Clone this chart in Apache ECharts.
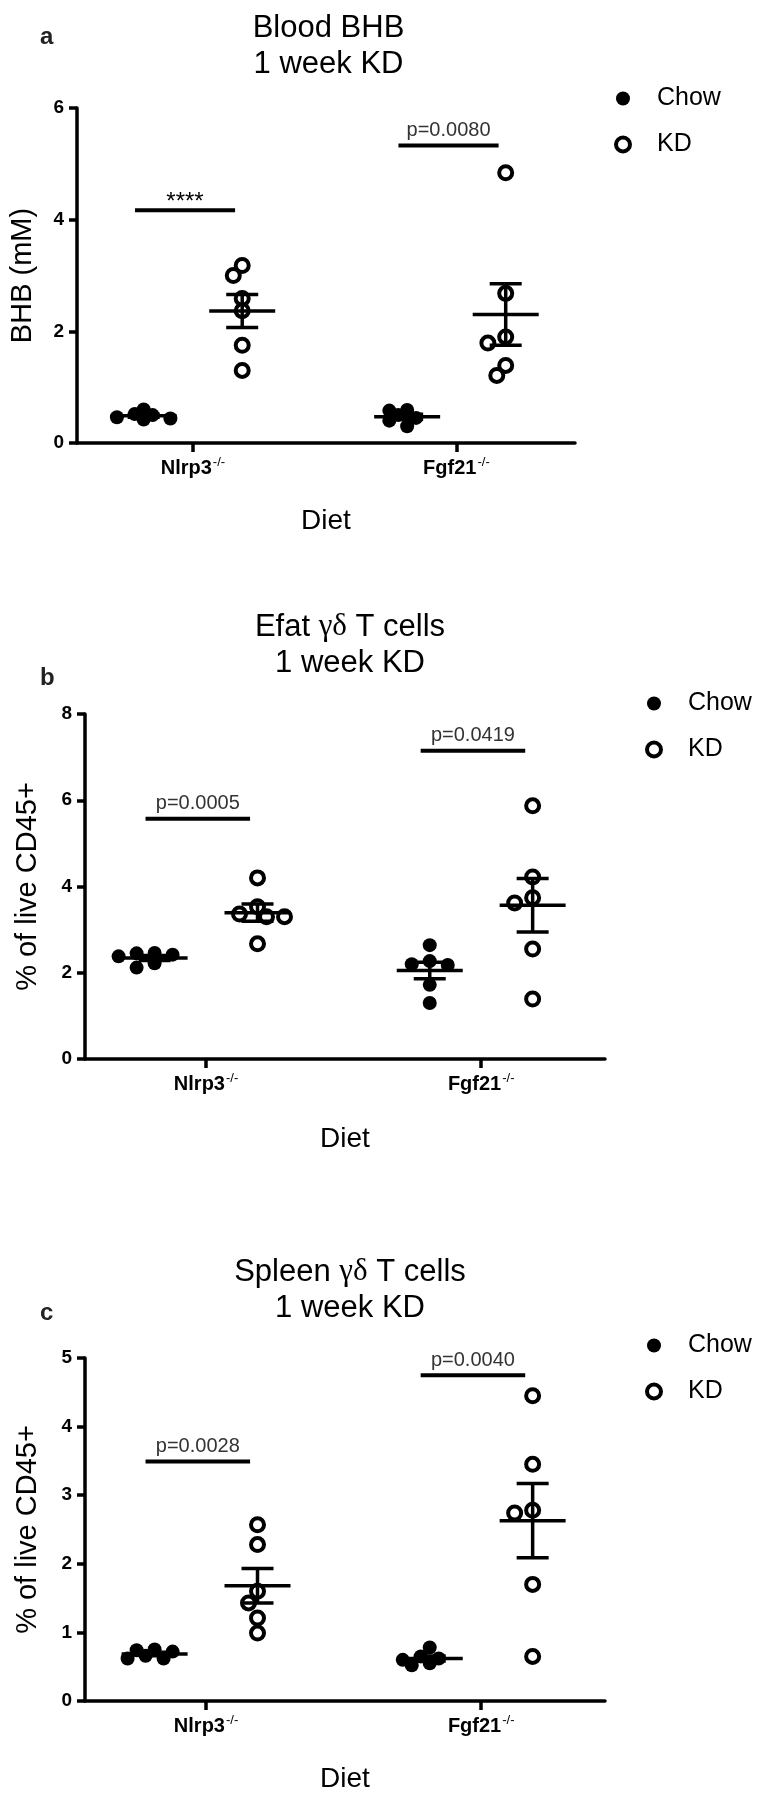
<!DOCTYPE html>
<html>
<head>
<meta charset="utf-8">
<script src="https://cdn.jsdelivr.net/npm/echarts@6/dist/echarts.min.js"></script>
<style>html,body{margin:0;padding:0;background:#fff}#c{width:761px;height:1800px}</style>
</head>
<body>
<div id="c"></div>
<script>
// ---- data ----
const categories = ['Nlrp3', 'Fgf21'];
const dietGroups = ['Chow', 'KD'];

const bhbChowNlrp3 = [0.42, 0.44, 0.46, 0.50, 0.52, 0.60];
const bhbChowFgf21 = [0.30, 0.40, 0.45, 0.50, 0.58, 0.59];
const bhbKDNlrp3   = [3.18, 3.00, 2.59, 2.37, 1.75, 1.30];
const bhbKDFgf21   = [4.84, 2.68, 1.90, 1.79, 1.39, 1.21];

const efatChowNlrp3 = [2.45, 2.42, 2.38, 2.12, 2.22, 2.46];
const efatChowFgf21 = [2.64, 2.27, 2.20, 2.18, 1.72, 1.30];
const efatKDNlrp3   = [4.20, 3.53, 3.30, 3.30, 3.36, 2.67];
const efatKDFgf21   = [5.87, 4.22, 3.74, 3.62, 2.55, 1.39];

const spleenChowNlrp3 = [0.72, 0.62, 0.75, 0.62, 0.74, 0.66];
const spleenChowFgf21 = [0.78, 0.65, 0.60, 0.55, 0.52, 0.62];
const spleenKDNlrp3   = [2.57, 2.28, 1.60, 1.43, 1.21, 0.99];
const spleenKDFgf21   = [4.45, 3.45, 2.78, 2.74, 1.70, 0.65];

const sigA = [[0, 4.17, '****'], [1, 5.33, 'p=0.0080']];
const sigB = [[0, 5.57, 'p=0.0005'], [1, 7.15, 'p=0.0419']];
const sigC = [[0, 3.49, 'p=0.0028'], [1, 4.75, 'p=0.0040']];

const titlesA = ['Blood BHB', '1 week KD'];
const titlesB = ['Efat {g|γδ} T cells', '1 week KD'];
const titlesC = ['Spleen {g|γδ} T cells', '1 week KD'];
const yNames = ['BHB (mM)', '% of live CD45+', '% of live CD45+'];
const yMaxes = [6, 8, 5];
const yIntervals = [2, 2, 1];
const xName = 'Diet';
const panelLetters = ['a', 'b', 'c'];

// ---- layout ----
const FONT = '"Liberation Sans", Arial, sans-serif';
const XMIN = 0.56, XMAX = 2.45, OFF = 0.187;
const grids = [
  {left: 72, top: 108, width: 503, height: 335},
  {left: 85, top: 714, width: 520, height: 345},
  {left: 85, top: 1358, width: 520, height: 343}
];
const titleTops = [5, 604, 1249];
const letterTops = [20, 661, 1296];
const legendPos = [{left: 609, top: 81}, {left: 640, top: 686}, {left: 640, top: 1328}];
const yNameGaps = [40, 43, 43];
const xNameGaps = [64, 66, 64];

const panels = [
  {chow: [bhbChowNlrp3, bhbChowFgf21], kd: [bhbKDNlrp3, bhbKDFgf21], sig: sigA, title: titlesA},
  {chow: [efatChowNlrp3, efatChowFgf21], kd: [efatKDNlrp3, efatKDFgf21], sig: sigB, title: titlesB},
  {chow: [spleenChowNlrp3, spleenChowFgf21], kd: [spleenKDNlrp3, spleenKDFgf21], sig: sigC, title: titlesC}
];

function swarm(values, center, pxX, pxY, D, step) {
  const order = values.map((v, i) => i).sort((a, b) => values[b] - values[a]);
  const placed = [];
  const out = new Array(values.length);
  const cands = [0];
  for (let j = 1; j < 8; j++) cands.push(-j * step, j * step);
  for (const i of order) {
    const y = values[i] * pxY;
    let off = 0;
    for (const c of cands) {
      if (placed.every(p => Math.hypot(p.x - c, p.y - y) >= D)) { off = c; break; }
    }
    placed.push({x: off, y: y});
    out[i] = [center + off / pxX, values[i]];
  }
  return out;
}
function meanSem(v) {
  const n = v.length, m = v.reduce((a, b) => a + b, 0) / n;
  const sd = Math.sqrt(v.reduce((a, b) => a + (b - m) * (b - m), 0) / (n - 1));
  return [m, sd / Math.sqrt(n)];
}

const option = {
  animation: false,
  backgroundColor: '#fff',
  title: [], legend: [], grid: [], xAxis: [], yAxis: [], series: []
};

panels.forEach((P, i) => {
  const g = grids[i];
  const pxX = g.width / (XMAX - XMIN), pxY = g.height / yMaxes[i];
  option.grid.push(Object.assign({containLabel: false}, g));
  option.title.push({
    text: P.title.join('\n'), left: g.left + g.width / 2, top: titleTops[i], textAlign: 'center',
    textStyle: {fontFamily: FONT, fontSize: 31, fontWeight: 'normal', color: '#000', lineHeight: 36,
      rich: {g: {fontFamily: '"Liberation Serif", "DejaVu Serif", serif', fontSize: 31, lineHeight: 36, color: '#000'}}}
  });
  option.title.push({
    text: panelLetters[i], left: 35, top: letterTops[i],
    textStyle: {fontFamily: FONT, fontSize: 24, fontWeight: 'bold', color: '#222'}
  });
  option.legend.push({
    orient: 'vertical', left: legendPos[i].left, top: legendPos[i].top,
    itemWidth: 14, itemHeight: 14, itemGap: 21,
    textStyle: {fontFamily: FONT, fontSize: 25, color: '#000', padding: [0, 0, 0, 22], lineHeight: 24},
    selectedMode: false,
    data: [
      {name: dietGroups[0], icon: 'circle', itemStyle: {color: '#000', borderWidth: 0, opacity: 1}},
      {name: dietGroups[1], icon: 'circle', itemStyle: {color: '#fff', borderColor: '#000', borderWidth: 4, opacity: 1}}
    ]
  });
  option.xAxis.push({
    type: 'value', gridIndex: i, min: XMIN, max: XMAX,
    name: xName, nameLocation: 'middle', nameGap: xNameGaps[i],
    nameTextStyle: {fontFamily: FONT, fontSize: 28, color: '#000'},
    axisLine: {show: true, onZero: false, lineStyle: {color: '#000', width: 3.5}},
    axisTick: {show: true, customValues: [1, 2], length: 9, lineStyle: {color: '#000', width: 3.5}},
    axisLabel: {
      customValues: [1, 2], margin: 13,
      formatter: v => '{b|' + categories[Math.round(v) - 1] + '}{s|-/-}',
      rich: {
        b: {fontFamily: FONT, fontSize: 20, fontWeight: 'bold', color: '#000', lineHeight: 24},
        s: {fontFamily: FONT, fontSize: 13, color: '#000', verticalAlign: 'top', lineHeight: 13, padding: [0, 0, 10, 1]}
      }
    },
    splitLine: {show: false}
  });
  option.yAxis.push({
    type: 'value', gridIndex: i, min: 0, max: yMaxes[i], interval: yIntervals[i],
    name: yNames[i], nameLocation: 'middle', nameGap: yNameGaps[i],
    nameTextStyle: {fontFamily: FONT, fontSize: 29, color: '#000'},
    axisLine: {show: true, lineStyle: {color: '#000', width: 3.5}},
    axisTick: {show: true, length: 8, lineStyle: {color: '#000', width: 3.5}},
    axisLabel: {fontFamily: FONT, fontSize: 19, fontWeight: 'bold', color: '#000', margin: 13},
    splitLine: {show: false}
  });
  const chowData = [], kdData = [], statData = [];
  [0, 1].forEach(k => {
    const cx = 1 + k;
    swarm(P.chow[k], cx - OFF, pxX, pxY, 10, 9).forEach(d => chowData.push(d));
    swarm(P.kd[k], cx + OFF, pxX, pxY, 12, 9).forEach(d => kdData.push(d));
    statData.push([cx - OFF].concat(meanSem(P.chow[k])));
    statData.push([cx + OFF].concat(meanSem(P.kd[k])));
  });
  option.series.push({
    type: 'scatter', name: dietGroups[0], xAxisIndex: i, yAxisIndex: i, data: chowData,
    symbol: 'circle', symbolSize: 14, itemStyle: {color: '#000', opacity: 1}, z: 2
  });
  option.series.push({
    type: 'scatter', name: dietGroups[1], xAxisIndex: i, yAxisIndex: i, data: kdData,
    symbol: 'circle', symbolSize: 13, itemStyle: {color: '#fff', borderColor: '#000', borderWidth: 4, opacity: 1}, z: 3
  });
  option.series.push({
    type: 'custom', xAxisIndex: i, yAxisIndex: i, data: statData, z: 5, silent: true,
    encode: {x: 0, y: 1},
    renderItem: (params, api) => {
      const x = api.value(0), m = api.value(1), s = api.value(2);
      const pm = api.coord([x, m]), pt = api.coord([x, m + s]), pb = api.coord([x, m - s]);
      const st = {stroke: '#000', lineWidth: 3.5};
      return {type: 'group', children: [
        {type: 'line', shape: {x1: pm[0] - 33, y1: pm[1], x2: pm[0] + 33, y2: pm[1]}, style: st},
        {type: 'line', shape: {x1: pt[0], y1: pt[1], x2: pb[0], y2: pb[1]}, style: st},
        {type: 'line', shape: {x1: pt[0] - 16, y1: pt[1], x2: pt[0] + 16, y2: pt[1]}, style: st},
        {type: 'line', shape: {x1: pb[0] - 16, y1: pb[1], x2: pb[0] + 16, y2: pb[1]}, style: st}
      ]};
    }
  });
  const sigLabels = P.sig.map(s => s[2]);
  option.series.push({
    type: 'custom', xAxisIndex: i, yAxisIndex: i, silent: true, z: 5,
    data: P.sig.map(s => [1 + s[0] - 0.22, 1 + s[0] + 0.16, s[1]]),
    encode: {x: [0, 1], y: 2},
    renderItem: (params, api) => {
      const p1 = api.coord([api.value(0), api.value(2)]);
      const p2 = api.coord([api.value(1), api.value(2)]);
      const lab = sigLabels[params.dataIndex];
      const star = lab.indexOf('*') >= 0;
      return {type: 'group', children: [
        {type: 'line', shape: {x1: p1[0], y1: p1[1], x2: p2[0], y2: p2[1]}, style: {stroke: '#000', lineWidth: 4}},
        {type: 'text', style: {text: lab, x: (p1[0] + p2[0]) / 2, y: p1[1] - (star ? -4 : 5),
          align: 'center', verticalAlign: 'bottom',
          fontFamily: FONT, fontSize: star ? 24 : 20, fill: star ? '#000' : '#333'}}
      ]};
    }
  });
});

const chart = echarts.init(document.getElementById('c'), null, {renderer: 'canvas', width: 761, height: 1800});
chart.setOption(option);
</script>
</body>
</html>
